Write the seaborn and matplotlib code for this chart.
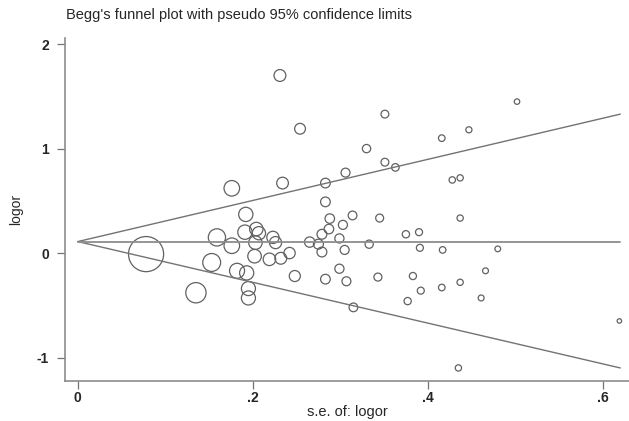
import numpy as np
import pandas as pd
import matplotlib
matplotlib.use("Agg")
import matplotlib.pyplot as plt
import seaborn as sns

# standard error of logor (x) and logor (y)
se = [0.078, 0.135, 0.153, 0.159, 0.176, 0.176, 0.182, 0.191, 0.192, 0.193,
      0.195, 0.195, 0.202, 0.203, 0.204, 0.207, 0.219, 0.223, 0.226, 0.231,
      0.232, 0.234, 0.242, 0.248, 0.254, 0.265, 0.275, 0.279, 0.279, 0.283,
      0.283, 0.283, 0.287, 0.288, 0.299, 0.299, 0.303, 0.305, 0.306, 0.307,
      0.314, 0.315, 0.330, 0.333, 0.343, 0.345, 0.351, 0.351, 0.363, 0.375,
      0.377, 0.383, 0.390, 0.391, 0.392, 0.416, 0.416, 0.417, 0.428, 0.435,
      0.437, 0.437, 0.437, 0.447, 0.461, 0.466, 0.480, 0.502, 0.619]
logor = [-0.01, -0.38, -0.09, 0.15, 0.07, 0.62, -0.17, 0.20, 0.37, -0.19,
         -0.34, -0.43, -0.03, 0.10, 0.23, 0.19, -0.06, 0.15, 0.10, 1.70,
         -0.05, 0.67, 0.00, -0.22, 1.19, 0.105, 0.085, 0.18, 0.01, 0.67,
         0.49, -0.25, 0.23, 0.33, 0.14, -0.15, 0.27, 0.03, 0.77, -0.27,
         0.36, -0.52, 1.00, 0.085, -0.23, 0.335, 1.33, 0.87, 0.82, 0.18,
         -0.46, -0.22, 0.20, 0.05, -0.36, 1.10, -0.33, 0.03, 0.70, -1.10,
         0.72, 0.335, -0.28, 1.18, -0.43, -0.17, 0.04, 1.45, -0.65]

# pseudo 95% confidence limits and pooled estimate (end points)
line_se = [0.0, 0.62]
upper_lim = [0.11, 1.33]
lower_lim = [0.11, -1.10]
pooled = [0.11, 0.11]

df = pd.DataFrame({"se": se, "logor": logor})
df["w"] = 1 / df["se"] ** 2

sns.set_style("white")
plt.rcParams["font.family"] = ["Liberation Sans", "DejaVu Sans"]

fig = plt.figure(figsize=(6.29, 4.21), dpi=100)
ax = fig.add_axes([0.103, 0.095, 0.897, 0.815])

ax.plot(line_se, upper_lim, color="0.45", lw=1)
ax.plot(line_se, lower_lim, color="0.45", lw=1)
ax.plot(line_se, pooled, color="0.55", lw=1.3)

wmax = df["w"].max()
sns.scatterplot(data=df, x="se", y="logor", size="w", sizes=(0, 3.89 * wmax),
                size_norm=(0, wmax), facecolors="none", edgecolor="0.38",
                linewidth=0.9, legend=False, ax=ax)

ax.set_xlim(-0.0149, 0.63)
ax.set_ylim(-1.225, 2.06)
ax.set_xticks([0, 0.2, 0.4, 0.6])
ax.set_xticklabels(["0", ".2", ".4", ".6"])
ax.set_yticks([-1, 0, 1, 2])
ax.set_yticklabels(["-1", "0", "1", "2"])
ax.tick_params(direction="out", length=6, width=0.9, color="0.45",
               labelsize=10, bottom=True, left=True)
ax.tick_params(axis="x", pad=1)
ax.tick_params(axis="y", pad=5.5)
for lab in ax.get_xticklabels() + ax.get_yticklabels():
    lab.set_fontweight("bold")

for side in ["top", "right"]:
    ax.spines[side].set_visible(False)
for side in ["left", "bottom"]:
    ax.spines[side].set_color("0.55")
    ax.spines[side].set_linewidth(1.2)

ax.set_xlabel("s.e. of: logor", fontsize=10.5, labelpad=0)
ax.set_ylabel("logor", fontsize=10, labelpad=10)
fig.text(0.105, 0.964, "Begg's funnel plot with pseudo 95% confidence limits",
         fontsize=10.5, va="center", ha="left")

fig.savefig("out.png", dpi=100)
